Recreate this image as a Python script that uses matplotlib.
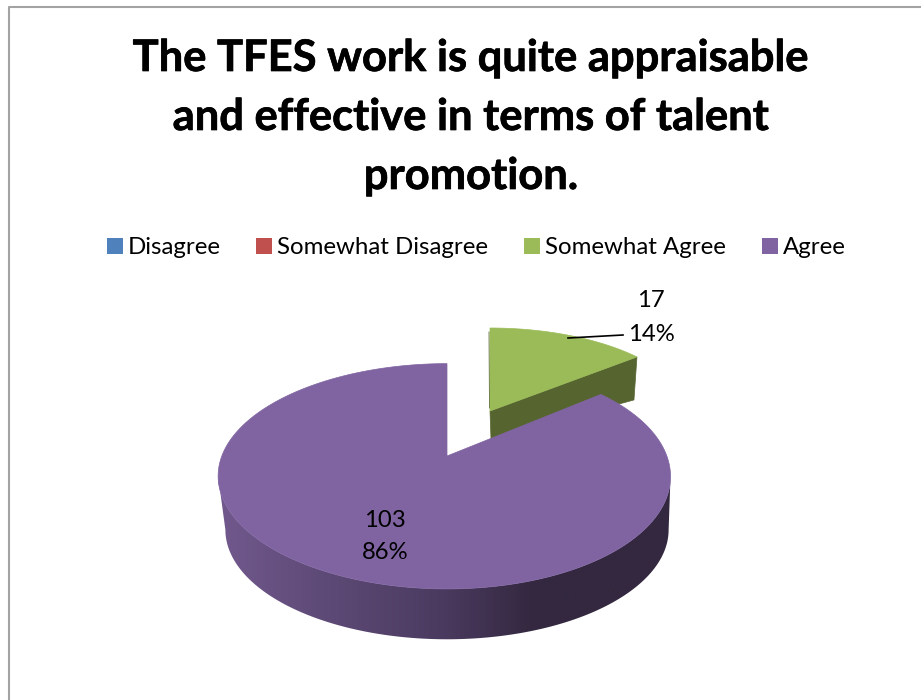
import numpy as np
import matplotlib
matplotlib.use("Agg")
import matplotlib.pyplot as plt
import matplotlib.patheffects as pe
from matplotlib.patches import Patch, Polygon
from matplotlib.colors import LinearSegmentedColormap

categories = ["Disagree", "Somewhat Disagree", "Somewhat Agree", "Agree"]
values = [0, 0, 17, 103]
percents = ["0%", "0%", "14%", "86%"]
colors = ["#4f81bd", "#c0504d", "#9bbb59", "#8064a2"]
title_lines = ["The TFES work is quite appraisable",
               "and effective in terms of talent",
               "promotion."]

plt.rcParams["font.family"] = ["Lato", "DejaVu Sans"]
fig = plt.figure(figsize=(9.21, 7.0), dpi=100, facecolor="white")
ax = fig.add_axes([0, 0, 1, 1])
ax.set_xlim(0, 921)
ax.set_ylim(700, 0)
ax.axis("off")

# chart frame (runs off the right and bottom of the picture)
ax.plot([9, 9, 921], [700, 7, 7], color="#a3a3a3", lw=1.5, zorder=1)

# title
for line, y in zip(title_lines, [71, 130, 189]):
    ax.text(471, y, line, ha="center", va="baseline", fontsize=31.3,
            fontweight="bold", color="black",
            path_effects=[pe.withStroke(linewidth=0.5, foreground="black")])

# slice angles from the values
total = sum(values)
edges = 2 * np.pi * np.cumsum([0] + values) / total


def rim(t, cx, cy, R, A, c, skew=0.0):
    """Perspective view of a circle: t runs clockwise from the far point."""
    u, v = np.sin(t), np.cos(t)
    w = 1 + c * v
    return cx + R * (1 - skew * u) * u / w, cy - A * v / w


# Somewhat Agree (exploded away from the viewer)
i = 2
t = np.linspace(edges[i], edges[i + 1], 80)
gtop = (490, 411, 201, 91.3, 0.10)
x, y = rim(t, *gtop)
ex, ey = x[-1], y[-1]
ax.add_patch(Polygon([(490, 411), (ex, ey), (ex - 3, ey + 43), (491, 439)],
                     closed=True, fc="#566530", ec="#566530", lw=0.5, zorder=2))
ax.add_patch(Polygon(np.r_[[[490, 411]], np.c_[x, y]], closed=True,
                     fc=colors[i], ec=colors[i], lw=0.5, zorder=3))
ax.plot([489, 489.5], [332, 408], color="#5f7035", lw=0.6, zorder=3)

# Agree (exploded toward the viewer)
i = 3
t = np.linspace(edges[i], edges[i + 1], 400)
ptop = (447, 456, 222.5, 109, 0.18, 0.012)
pbot = (447, 510, 218, 106, 0.18, 0.0)
x, y = rim(t, *ptop)

# outer wall with horizontal shading, from silhouette point to silhouette point
t0 = np.arccos(-ptop[4])
tw = np.linspace(t0, 2 * np.pi - t0, 240)
xt, yt = rim(tw, *ptop)
xb, yb = rim(tw, *pbot)
shade = LinearSegmentedColormap.from_list(
    "side", [(0.0, "#33283f"), (0.30, "#33283f"), (0.5, "#4a3a5f"),
             (0.78, "#5f4b78"), (1.0, "#72598e")])
img = ax.imshow(np.linspace(0, 1, 256)[None, :][:, ::-1], cmap=shade,
                extent=(215, 672, 700, 0), aspect="auto", zorder=4, vmin=0, vmax=1)
wall = Polygon(np.r_[np.c_[xt, yt], np.c_[xb, yb][::-1]], closed=True,
               transform=ax.transData, fc="none", ec="none")
ax.add_patch(wall)
img.set_clip_path(wall)
ax.set_xlim(0, 921)
ax.set_ylim(700, 0)

ax.add_patch(Polygon(np.r_[[[447, 456]], np.c_[x, y]], closed=True,
                     fc=colors[i], ec=colors[i], lw=0.5, zorder=5))

# data labels
ax.text(651, 307, str(values[2]), ha="center", va="baseline", fontsize=17.2, zorder=6)
ax.text(651, 341, percents[2], ha="center", va="baseline", fontsize=17.2, zorder=6)
ax.text(385, 527, str(values[3]), ha="center", va="baseline", fontsize=17.2, zorder=6)
ax.text(385, 559, percents[3], ha="center", va="baseline", fontsize=17.2, zorder=6)
ax.plot([568, 623], [338, 335], color="black", lw=1.2, zorder=6)

# legend
handles = [Patch(fc=col, ec="none", label=lab) for col, lab in zip(colors, categories)]
ax.legend(handles=handles, ncol=4, loc="center", bbox_to_anchor=(476 / 921, 1 - 248 / 700),
          frameon=False, fontsize=17.25, handlelength=0.67, handleheight=0.67,
          handletextpad=0.2, columnspacing=1.5, borderpad=0)

fig.savefig("out.png", dpi=100, facecolor="white")
